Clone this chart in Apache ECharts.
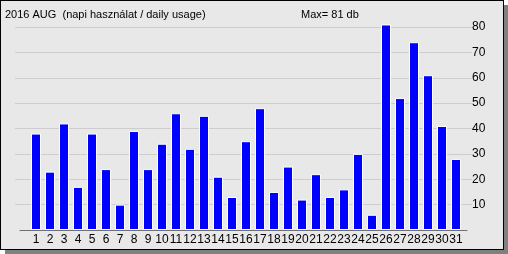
<!DOCTYPE html>
<html><head><meta charset="utf-8">
<script src="https://cdn.jsdelivr.net/npm/echarts@6/dist/echarts.min.js"></script>
<style>
html,body{margin:0;padding:0;background:#fff;}
#frame{position:absolute;left:0;top:0;width:502px;height:248px;border:1px solid #000;background:#e8e8e8;box-shadow:5px 5px 0 #808080;}
#chart{position:absolute;left:0;top:0;width:508px;height:254px;}
</style></head>
<body>
<div id="frame"></div>
<div id="chart"></div>
<script>
const titleText = '2016 AUG  (napi használat / daily usage)';
const days = ['1','2','3','4','5','6','7','8','9','10','11','12','13','14','15','16','17','18','19','20','21','22','23','24','25','26','27','28','29','30','31'];
const usage = [38,23,42,17,38,24,10,39,24,34,46,32,45,21,13,35,48,15,25,12,22,13,16,30,6,81,52,74,61,41,28];
const yMin = 0, yMax = 80, yStep = 10;

const font = 'Liberation Sans, Arial, sans-serif';
const chart = echarts.init(document.getElementById('chart'), null, {renderer:'canvas'});
chart.setOption({
  animation: false,
  backgroundColor: 'transparent',
  title: [
    {text: titleText, left: 5, top: 9, padding: 0, textStyle:{fontSize:11, fontWeight:'normal', color:'#000', fontFamily:font}},
    {text: 'Max= ' + Math.max(...usage) + ' db', left: 301, top: 9, padding: 0, textStyle:{fontSize:11, fontWeight:'normal', color:'#000', fontFamily:font}}
  ],
  grid: [
    {left:15, right:36, top:27, bottom:24},
    {left:20, right:41, top:27, bottom:24},
    {left:29, right:45, top:27, bottom:24}
  ],
  xAxis: [
    {gridIndex:0, type:'value', show:false, min:0, max:1},
    {gridIndex:1, type:'value', min:0, max:1, axisLine:{show:true, onZero:false, lineStyle:{color:'#707070', width:1}}, axisTick:{show:false}, axisLabel:{show:false}, splitLine:{show:false}},
    {gridIndex:2, type:'category', data:days, axisLine:{show:false}, axisTick:{show:false},
      axisLabel:{interval:0, margin:4, fontSize:12, color:'#000', fontFamily:font}}
  ],
  yAxis: [
    {gridIndex:0, type:'value', position:'right', min:yMin, max:yMax, interval:yStep,
      axisLine:{show:false}, axisTick:{show:false},
      axisLabel:{margin:0, fontSize:12, color:'#000', fontFamily:font, showMinLabel:false},
      splitLine:{show:true, showMinLine:false, lineStyle:{color:'#cdcdcd', width:1}}},
    {gridIndex:1, type:'value', show:false, min:yMin, max:yMax},
    {gridIndex:2, type:'value', show:false, min:yMin, max:yMax}
  ],
  series: [{
    type:'bar', xAxisIndex:2, yAxisIndex:2, data:usage, barWidth:10, clip:false,
    itemStyle:{color:'#0000ff', borderColor:'#ffffff', borderWidth:1}
  }]
});
</script>
</body></html>
